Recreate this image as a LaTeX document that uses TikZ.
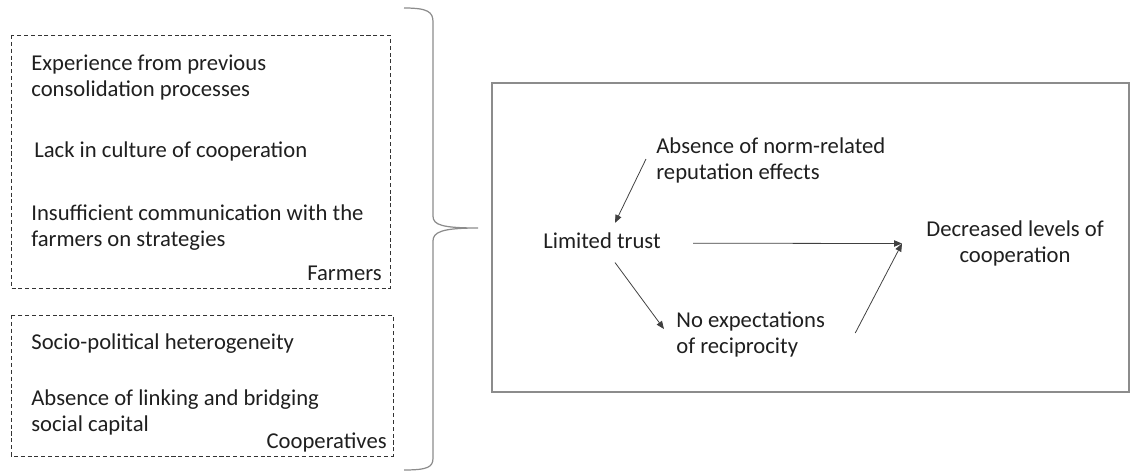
\documentclass[tikz,border=0pt]{standalone}
\usepackage{fontspec}
\setmainfont{Carlito}
\usetikzlibrary{calc,arrows.meta}
\tikzset {>={Triangle[length=4.5pt,width=3.6pt]}}
\tikzset{
  lbl/.style={inner sep=0pt, align=left, anchor=base west, text=black!88,
    font=\fontsize{12.9}{15.3}\selectfont},
  tag/.style={lbl, anchor=base east},
  grp/.style={draw=black!80, line width=0.5pt, dash pattern=on 2.3pt off 1.6pt},
  frame/.style={draw=black!45, line width=0.7pt},
  arr/.style={->, draw=black!75, line width=0.45pt}
}

\begin{document}
\begin{tikzpicture}[x=0.02cm,y=-0.02cm]
\useasboundingbox (0,0) rectangle (1136,472);
% farmers
\draw[grp] (11,35) rectangle (390,288);
\node[lbl] (exp) at (31,97) {Experience from previous\\consolidation processes};
\node[lbl] (lack) at (34,158) {Lack in culture of cooperation};
\node[lbl] (comm) at (31,247) {Insufficient communication with the\\farmers on strategies};
\node[tag] (farm) at (382,281) {Farmers};
% cooperatives
\draw[grp] (11,315) rectangle (393,456);
\node[lbl] (socio) at (31,350) {Socio-political heterogeneity};
\node[lbl] (link) at (31,432) {Absence of linking and bridging\\social capital};
\node[tag] (coop) at (387,449) {Cooperatives};
% brace
\draw[frame] (404,8) .. controls (428,8) and (433,12) .. (433,22) -- (433,216)
  .. controls (433,225) and (442,228) .. (478,228)
  .. controls (442,228) and (433,232) .. (433,241) -- (433,458)
  .. controls (433,467) and (428,470) .. (404,470);
% mechanism
\draw[frame] (492,83) rectangle (1129,392);
\node[lbl] (norm) at (656,180) {Absence of norm-related\\reputation effects};
\node[lbl] (trust) at (543,249) {Limited trust};
\node[lbl, align=center] (decr) at (926,263) {Decreased levels of\\cooperation};
\node[lbl] (recip) at (676,354) {No expectations\\of reciprocity};
\draw[arr] ($(norm.west)+(-10,-1.5)$) -- ($(trust.north)+(13,-10)$);
\draw[arr] ($(trust.east)+(32,2)$) -- ($(decr.west)+(-24,0)$);
\draw[arr] ($(trust.south)+(13,13)$) -- ($(recip.west)+(-12,-5.5)$);
\draw[arr] ($(recip.east)+(30,-1.5)$) -- ($(decr.west)+(-24,0)$);
\end{tikzpicture}
\end{document}
